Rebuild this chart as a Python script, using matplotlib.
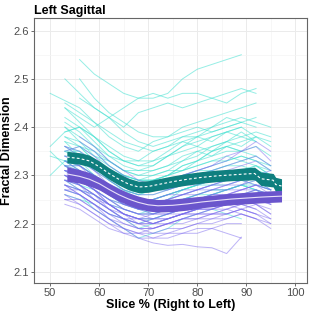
import numpy as np
import matplotlib
matplotlib.use("Agg")
import matplotlib.pyplot as plt

plt.rcParams['font.family'] = ['Liberation Sans', 'DejaVu Sans']

# slice positions (%) where the individual curves were read
slice_grid = [50, 53, 56, 59, 62, 65, 68, 71, 74, 77, 80, 83, 86, 89, 92, 95]

# individual subject curves, group 1 (turquoise) - start index into slice_grid + values
cyan_starts = [0, 2, 1, 1, 1, 1, 0, 1, 1, 1, 1, 1, 0, 1, 1, 1, 1, 1, 1, 1, 2,
               1, 1, 0, 1, 2, 1, 1, 1, 1, 1, 1, 0,
               1, 1, 1, 1, 1, 1, 1, 1, 1, 2]
cyan_lines = [
    [2.47, 2.455, 2.44, 2.41, 2.39, 2.37, 2.36, 2.35, 2.36, 2.37, 2.36, 2.35, 2.36, 2.35],
    [2.54, 2.51, 2.49, 2.47, 2.46, 2.46, 2.47, 2.50, 2.52, 2.53, 2.54, 2.55],
    [2.50, 2.47, 2.44, 2.42, 2.40, 2.43, 2.44, 2.45, 2.44, 2.45, 2.46, 2.45, 2.47, 2.48],
    [2.44, 2.42, 2.40, 2.42, 2.44, 2.46, 2.47, 2.46, 2.47, 2.47, 2.46, 2.47, 2.48, 2.47],
    [2.45, 2.43, 2.41, 2.38, 2.36, 2.35, 2.37, 2.38, 2.40, 2.41, 2.42, 2.43, 2.44, 2.45],
    [2.42, 2.40, 2.37, 2.34, 2.33, 2.33, 2.35, 2.36, 2.38, 2.39, 2.40, 2.41, 2.42, 2.41, 2.40],
    [2.36, 2.39, 2.40, 2.38, 2.35, 2.33, 2.32, 2.33, 2.34, 2.36, 2.38, 2.37, 2.39, 2.40],
    [2.40, 2.38, 2.36, 2.33, 2.31, 2.30, 2.31, 2.32, 2.34, 2.35, 2.34, 2.36, 2.37, 2.38, 2.37],
    [2.38, 2.37, 2.35, 2.32, 2.30, 2.29, 2.29, 2.30, 2.32, 2.33, 2.34, 2.35, 2.35, 2.36, 2.34],
    [2.36, 2.34, 2.32, 2.30, 2.29, 2.28, 2.29, 2.30, 2.31, 2.32, 2.33, 2.34, 2.33, 2.34, 2.32],
    [2.35, 2.35, 2.33, 2.31, 2.28, 2.27, 2.28, 2.28, 2.30, 2.31, 2.31, 2.32, 2.32, 2.31, 2.30],
    [2.34, 2.33, 2.31, 2.29, 2.27, 2.26, 2.26, 2.27, 2.28, 2.29, 2.30, 2.31, 2.31, 2.32, 2.31],
    [2.30, 2.33, 2.32, 2.30, 2.28, 2.26, 2.25, 2.25, 2.26, 2.27, 2.28, 2.29, 2.30, 2.30, 2.29, 2.28],
    [2.33, 2.32, 2.30, 2.28, 2.26, 2.25, 2.24, 2.25, 2.26, 2.27, 2.28, 2.28, 2.29, 2.28, 2.27],
    [2.32, 2.31, 2.29, 2.27, 2.25, 2.24, 2.24, 2.24, 2.25, 2.26, 2.27, 2.27, 2.28, 2.27, 2.26],
    [2.31, 2.29, 2.27, 2.25, 2.23, 2.22, 2.22, 2.23, 2.24, 2.25, 2.25, 2.26, 2.26, 2.27, 2.25],
    [2.29, 2.27, 2.25, 2.23, 2.21, 2.19, 2.20, 2.21, 2.22, 2.23, 2.24, 2.24, 2.25, 2.25],
    [2.27, 2.26, 2.23, 2.21, 2.19, 2.17, 2.18, 2.19, 2.21, 2.22, 2.23, 2.22, 2.21],
    [2.37, 2.36, 2.34, 2.33, 2.31, 2.31, 2.32, 2.34, 2.36, 2.37, 2.38, 2.39, 2.40, 2.38, 2.36],
    [2.39, 2.40, 2.38, 2.36, 2.34, 2.33, 2.33, 2.35, 2.37, 2.38, 2.40, 2.42, 2.41, 2.40],
    [2.50, 2.46, 2.43, 2.41, 2.39, 2.38, 2.38, 2.39, 2.40, 2.39, 2.40, 2.41, 2.42],
    [2.34, 2.34, 2.33, 2.31, 2.29, 2.28, 2.27, 2.28, 2.29, 2.29, 2.30, 2.30, 2.31, 2.30, 2.29],
    [2.32, 2.30, 2.28, 2.27, 2.26, 2.27, 2.28, 2.29, 2.30, 2.31, 2.32, 2.33, 2.34, 2.33, 2.31],
    [2.34, 2.33, 2.31, 2.29, 2.27, 2.25, 2.23, 2.22, 2.23, 2.24, 2.25, 2.26, 2.27, 2.28, 2.27],
    [2.30, 2.28, 2.26, 2.24, 2.22, 2.21, 2.21, 2.22, 2.23, 2.23, 2.24, 2.25, 2.26, 2.26, 2.25],
    [2.46, 2.44, 2.42, 2.39, 2.37, 2.36, 2.37, 2.38, 2.38, 2.39, 2.40, 2.41],
    [2.36, 2.35, 2.32, 2.30, 2.28, 2.27, 2.27, 2.28, 2.28, 2.30, 2.31, 2.32, 2.33, 2.32, 2.30],
    [2.33, 2.31, 2.29, 2.26, 2.24, 2.23, 2.23, 2.24, 2.25, 2.26, 2.27, 2.27, 2.28, 2.27, 2.26],
    [2.41, 2.39, 2.36, 2.34, 2.32, 2.31, 2.31, 2.32, 2.33, 2.35, 2.36, 2.37, 2.39, 2.37],
    [2.35, 2.33, 2.30, 2.28, 2.27, 2.26, 2.27, 2.27, 2.28, 2.29, 2.30, 2.31, 2.30, 2.29, 2.28],
    [2.31, 2.30, 2.28, 2.26, 2.25, 2.24, 2.25, 2.26, 2.27, 2.28, 2.29, 2.30, 2.31, 2.30, 2.29],
    [2.28, 2.27, 2.26, 2.24, 2.23, 2.22, 2.23, 2.24, 2.25, 2.25, 2.26, 2.27, 2.28, 2.29, 2.28],
    [2.35, 2.32, 2.30, 2.28, 2.26, 2.24, 2.24, 2.25, 2.26, 2.27, 2.28, 2.28, 2.29],
    [2.38, 2.36, 2.33, 2.31, 2.30, 2.29, 2.30, 2.31, 2.31, 2.32, 2.33, 2.33, 2.34, 2.33, 2.32],
    [2.33, 2.34, 2.32, 2.29, 2.27, 2.25, 2.25, 2.26, 2.27, 2.28, 2.29, 2.29, 2.30, 2.31, 2.30],
    [2.40, 2.37, 2.34, 2.32, 2.30, 2.29, 2.29, 2.30, 2.31, 2.33, 2.35, 2.36, 2.35, 2.34],
    [2.29, 2.28, 2.27, 2.25, 2.24, 2.23, 2.24, 2.25, 2.27, 2.28, 2.29, 2.29, 2.30, 2.29, 2.27],
    [2.37, 2.34, 2.32, 2.29, 2.27, 2.26, 2.27, 2.28, 2.29, 2.30, 2.31, 2.30, 2.31, 2.32, 2.30],
    [2.44, 2.41, 2.38, 2.35, 2.33, 2.32, 2.32, 2.34, 2.35, 2.36, 2.38, 2.39, 2.38, 2.37],
    [2.32, 2.32, 2.30, 2.28, 2.26, 2.24, 2.23, 2.24, 2.25, 2.26, 2.26, 2.27, 2.28, 2.28, 2.27],
    [2.26, 2.25, 2.24, 2.22, 2.21, 2.20, 2.21, 2.22, 2.23, 2.24, 2.24, 2.25, 2.26, 2.25],
    [2.35, 2.36, 2.35, 2.33, 2.31, 2.30, 2.30, 2.31, 2.33, 2.34, 2.36, 2.37, 2.38, 2.39, 2.38],
    [2.36, 2.33, 2.31, 2.30, 2.29, 2.29, 2.30, 2.32, 2.33, 2.35, 2.37, 2.36, 2.38],
]

# group 2 (purple)
purple_starts = [1, 1, 1, 1, 1, 1, 2, 1, 1, 1, 1, 1, 1, 1, 2, 1, 1, 1, 1, 1, 1,
                 1, 1, 1, 1, 1,
                 1, 1, 1, 1, 1, 1, 1, 1, 1, 1]
purple_lines = [
    [2.30, 2.29, 2.27, 2.25, 2.23, 2.22, 2.22, 2.23, 2.23, 2.24, 2.25, 2.25, 2.26, 2.26, 2.25],
    [2.28, 2.27, 2.25, 2.23, 2.21, 2.20, 2.20, 2.21, 2.22, 2.22, 2.23, 2.24, 2.24, 2.23],
    [2.33, 2.32, 2.30, 2.28, 2.26, 2.25, 2.24, 2.25, 2.26, 2.27, 2.27, 2.28, 2.29, 2.28, 2.27],
    [2.35, 2.36, 2.34, 2.31, 2.29, 2.28, 2.28, 2.29, 2.30, 2.31, 2.32, 2.33, 2.35, 2.36, 2.33],
    [2.26, 2.25, 2.23, 2.21, 2.19, 2.17, 2.16, 2.155, 2.157, 2.152, 2.150, 2.138, 2.172],
    [2.29, 2.28, 2.26, 2.23, 2.21, 2.19, 2.19, 2.20, 2.21, 2.21, 2.22, 2.22, 2.23, 2.24, 2.22],
    [2.37, 2.35, 2.32, 2.30, 2.28, 2.27, 2.27, 2.28, 2.28, 2.29, 2.30, 2.30, 2.29, 2.28],
    [2.31, 2.30, 2.28, 2.26, 2.24, 2.23, 2.23, 2.24, 2.25, 2.25, 2.26, 2.27, 2.27, 2.28, 2.26],
    [2.27, 2.26, 2.24, 2.22, 2.20, 2.19, 2.18, 2.19, 2.19, 2.20, 2.21, 2.21, 2.22, 2.21, 2.20],
    [2.32, 2.31, 2.29, 2.27, 2.25, 2.23, 2.22, 2.22, 2.23, 2.24, 2.24, 2.25, 2.26, 2.27, 2.26],
    [2.25, 2.24, 2.22, 2.20, 2.19, 2.18, 2.18, 2.18, 2.19, 2.20, 2.20, 2.21, 2.22, 2.21],
    [2.34, 2.33, 2.31, 2.29, 2.27, 2.26, 2.26, 2.27, 2.28, 2.29, 2.30, 2.31, 2.32, 2.33, 2.31],
    [2.29, 2.29, 2.27, 2.24, 2.22, 2.21, 2.21, 2.22, 2.23, 2.23, 2.24, 2.24, 2.25, 2.25, 2.24],
    [2.30, 2.28, 2.25, 2.23, 2.22, 2.21, 2.20, 2.21, 2.22, 2.23, 2.23, 2.24, 2.25, 2.24, 2.23],
    [2.38, 2.36, 2.33, 2.31, 2.29, 2.28, 2.29, 2.30, 2.31, 2.32, 2.34, 2.35, 2.37, 2.35],
    [2.28, 2.26, 2.24, 2.22, 2.21, 2.20, 2.19, 2.20, 2.20, 2.21, 2.21, 2.22, 2.23, 2.22, 2.21],
    [2.26, 2.24, 2.22, 2.20, 2.18, 2.17, 2.17, 2.17, 2.18, 2.18, 2.19, 2.20, 2.20],
    [2.31, 2.31, 2.29, 2.26, 2.24, 2.23, 2.24, 2.24, 2.25, 2.26, 2.27, 2.28, 2.28, 2.29, 2.27],
    [2.33, 2.31, 2.28, 2.26, 2.24, 2.24, 2.24, 2.25, 2.26, 2.26, 2.27, 2.27, 2.28, 2.30, 2.31],
    [2.27, 2.26, 2.24, 2.21, 2.19, 2.18, 2.19, 2.20, 2.21, 2.22, 2.22, 2.23, 2.22, 2.21, 2.19],
    [2.32, 2.30, 2.27, 2.25, 2.23, 2.22, 2.21, 2.21, 2.22, 2.23, 2.24, 2.25, 2.25, 2.26, 2.25],
    [2.29, 2.27, 2.25, 2.24, 2.23, 2.22, 2.22, 2.23, 2.24, 2.25, 2.26, 2.26, 2.27, 2.28, 2.27],
    [2.24, 2.23, 2.21, 2.19, 2.18, 2.18, 2.17, 2.18, 2.18, 2.19, 2.19, 2.18, 2.17],
    [2.36, 2.34, 2.31, 2.28, 2.26, 2.25, 2.25, 2.26, 2.26, 2.27, 2.28, 2.29, 2.30, 2.31, 2.29],
    [2.30, 2.29, 2.27, 2.24, 2.22, 2.20, 2.20, 2.21, 2.22, 2.23, 2.24, 2.24, 2.25, 2.26, 2.24],
    [2.28, 2.27, 2.26, 2.24, 2.22, 2.21, 2.21, 2.22, 2.22, 2.23, 2.23, 2.24, 2.23, 2.22, 2.20],
    [2.31, 2.29, 2.27, 2.25, 2.24, 2.23, 2.23, 2.23, 2.24, 2.25, 2.25, 2.26, 2.27, 2.27, 2.26],
    [2.27, 2.27, 2.25, 2.23, 2.21, 2.20, 2.21, 2.21, 2.22, 2.23, 2.23, 2.24, 2.25, 2.24, 2.22],
    [2.34, 2.32, 2.29, 2.27, 2.25, 2.24, 2.24, 2.25, 2.26, 2.27, 2.28, 2.28, 2.29, 2.30, 2.28],
    [2.29, 2.28, 2.26, 2.24, 2.22, 2.21, 2.22, 2.22, 2.23, 2.24, 2.24, 2.25, 2.26, 2.27, 2.25],
    [2.25, 2.25, 2.23, 2.21, 2.20, 2.19, 2.19, 2.20, 2.21, 2.21, 2.22, 2.22, 2.23, 2.22],
    [2.32, 2.32, 2.30, 2.28, 2.26, 2.25, 2.25, 2.26, 2.27, 2.27, 2.28, 2.29, 2.29, 2.30, 2.29],
    [2.30, 2.28, 2.26, 2.24, 2.22, 2.21, 2.20, 2.20, 2.21, 2.22, 2.22, 2.23, 2.24, 2.25, 2.24],
    [2.36, 2.35, 2.33, 2.30, 2.28, 2.27, 2.27, 2.28, 2.29, 2.30, 2.31, 2.32, 2.33, 2.34, 2.32],
    [2.28, 2.26, 2.24, 2.22, 2.21, 2.21, 2.20, 2.21, 2.22, 2.22, 2.23, 2.23, 2.24, 2.23, 2.21],
    [2.31, 2.30, 2.28, 2.26, 2.25, 2.24, 2.23, 2.24, 2.24, 2.25, 2.26, 2.26, 2.27, 2.28, 2.28],
]

# group mean fits with ribbon half-width
teal_x = [53.4, 56, 58, 60, 62, 64, 66, 68, 70, 72, 75, 78, 81, 84, 87, 90, 91.7, 93, 95.5, 96, 97.2]
teal_mean = [2.338, 2.335, 2.330, 2.318, 2.304, 2.292, 2.282, 2.276, 2.277, 2.281, 2.287,
             2.292, 2.296, 2.299, 2.301, 2.303, 2.304, 2.293, 2.290, 2.281, 2.278]
teal_half = [0.012, 0.012, 0.012, 0.012, 0.012, 0.012, 0.012, 0.012, 0.012, 0.012, 0.012,
             0.012, 0.012, 0.012, 0.012, 0.013, 0.013, 0.014, 0.014, 0.015, 0.015]

purple_x = [53.4, 56, 58, 60, 62, 64, 66, 68, 70, 72, 75, 78, 81, 84, 87, 90, 93, 95, 97.2]
purple_mean = [2.303, 2.298, 2.292, 2.283, 2.271, 2.260, 2.251, 2.244, 2.239, 2.237, 2.238,
               2.241, 2.245, 2.248, 2.251, 2.253, 2.255, 2.256, 2.257]
purple_half = [0.015, 0.014, 0.014, 0.013, 0.013, 0.013, 0.013, 0.013, 0.013, 0.013, 0.013,
               0.013, 0.012, 0.012, 0.012, 0.012, 0.012, 0.012, 0.012]

fig = plt.figure(figsize=(3.12, 3.12), dpi=100)
ax = fig.add_axes([0.109, 0.093, 0.875, 0.849])

for st, vals in zip(cyan_starts, cyan_lines):
    ax.plot(slice_grid[st:st + len(vals)], vals, color="#40E0D0", lw=0.7, alpha=0.55, zorder=2)
for st, vals in zip(purple_starts, purple_lines):
    ax.plot(slice_grid[st:st + len(vals)], vals, color="#7B68EE", lw=0.7, alpha=0.5, zorder=2)

tm = np.array(teal_mean); th = np.array(teal_half)
pm = np.array(purple_mean); ph = np.array(purple_half)
ax.fill_between(teal_x, tm - th, tm + th, color="#0F7F7F", lw=0, zorder=3)
ax.plot(teal_x, tm, color="white", lw=0.8, ls=(0, (2.5, 2)), zorder=4)
ax.fill_between(purple_x, pm - ph, pm + ph, color="#6A55CC", lw=0, zorder=3)
ax.plot(purple_x, pm, color="#E8E0F8", lw=0.8, zorder=4)

ax.set_xlim(46.7, 102.4)
ax.set_ylim(2.077, 2.626)
ax.set_xticks([50, 60, 70, 80, 90, 100])
ax.set_yticks([2.1, 2.2, 2.3, 2.4, 2.5, 2.6])
ax.set_xticks(np.arange(55, 101, 10), minor=True)
ax.set_yticks(np.arange(2.15, 2.61, 0.1), minor=True)
ax.grid(True, which="major", color="#EBEBEB", lw=0.7, zorder=0)
ax.grid(True, which="minor", color="#F4F4F4", lw=0.5, zorder=0)
ax.set_axisbelow(True)
ax.tick_params(which="minor", length=0)
ax.tick_params(which="major", length=2.2, width=0.6, color="#555555",
               labelsize=8, labelcolor="#4D4D4D", pad=1.2)
for s in ax.spines.values():
    s.set_color("#666666")
    s.set_linewidth(0.8)

ax.set_xlabel("Slice % (Right to Left)", fontsize=9, fontweight="bold", labelpad=1)
ax.set_ylabel("Fractal Dimension", fontsize=9, fontweight="bold")
ax.yaxis.set_label_coords(-0.076, 0.5)
ax.set_title("Left Sagittal", fontsize=9, fontweight="bold", loc="left", pad=3)

fig.savefig("out.png", dpi=100)
